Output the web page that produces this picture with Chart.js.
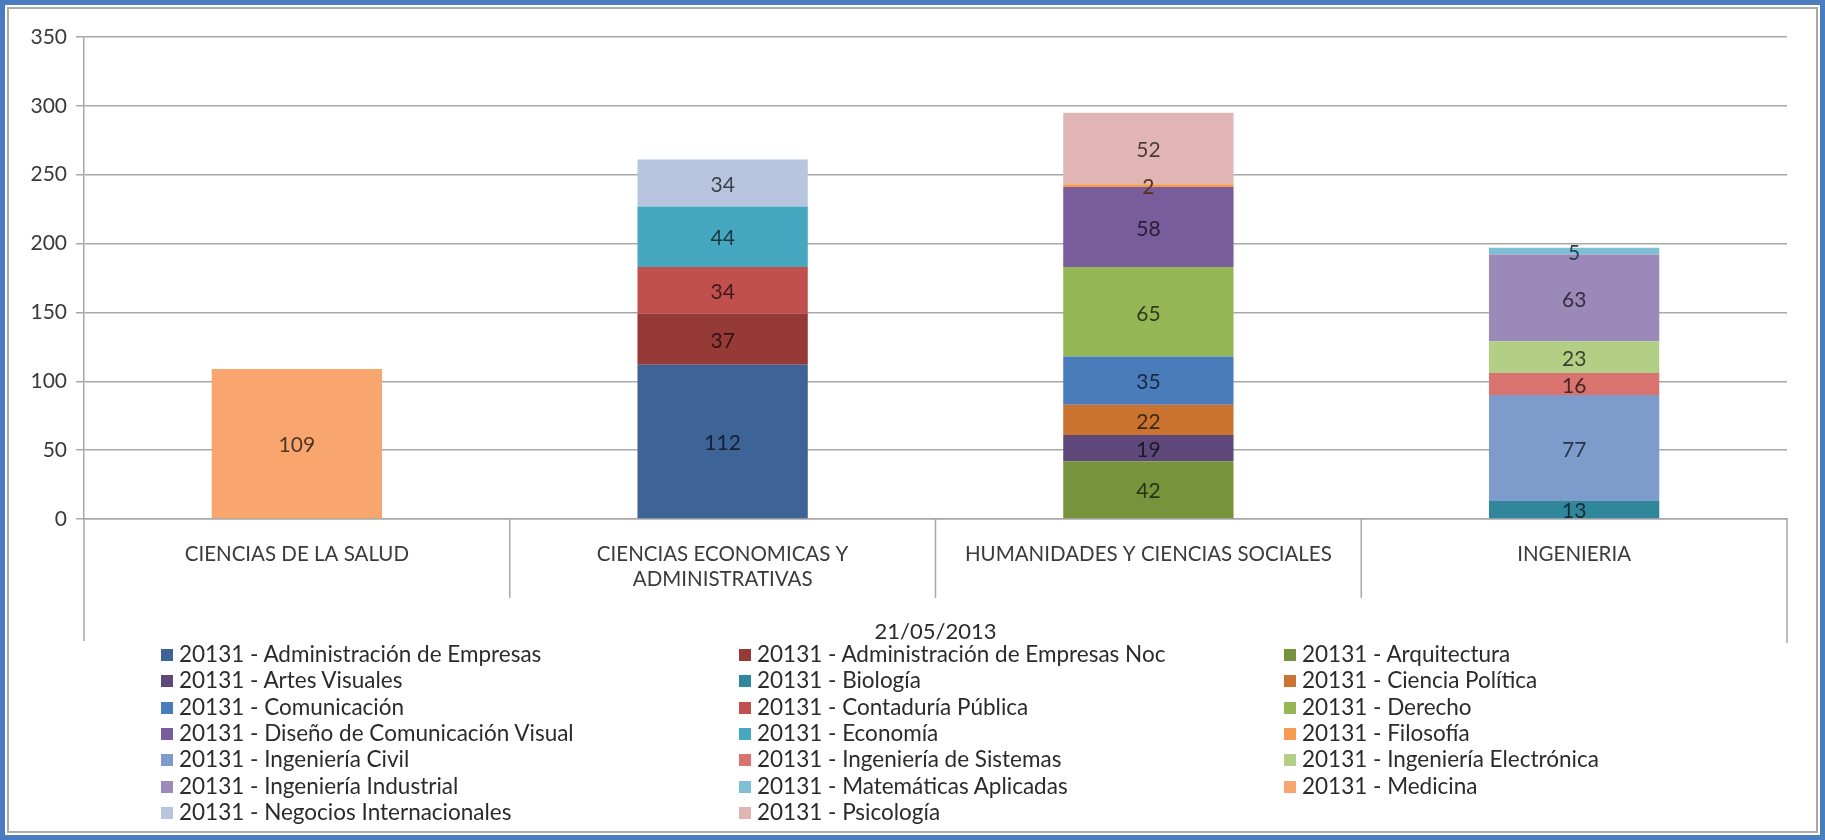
<!DOCTYPE html>
<html>
<head>
<meta charset="utf-8">
<title>Inscritos 20131 por facultad</title>
<script src="https://cdn.jsdelivr.net/npm/chart.js@4.4.1/dist/chart.umd.min.js"></script>
<style>
    html, body { margin: 0; padding: 0; background: #fff; }
    #wrap { position: relative; width: 1825px; height: 840px; overflow: hidden; }
    #chart { position: absolute; left: 0; top: 0; }
    #frame {
        position: absolute; left: 0; top: 0; width: 1825px; height: 840px;
        box-sizing: border-box; border: 5px solid #4a7cc0;
        box-shadow: inset 0 0 0 2px #fff, inset 0 0 0 4px #a9a9a9;
        pointer-events: none;
    }
    #legend { position: absolute; left: 0; top: 0; font-family: Lato, sans-serif; font-size: 22.5px; color: #2b2b2b; }
    .item { position: absolute; white-space: nowrap; line-height: 26px; }
    .box { position: absolute; width: 12px; height: 12px; }
</style>
</head>
<body>
<div id="wrap">
    <canvas id="chart" width="1825" height="840"></canvas>
    <div id="legend"></div>
    <div id="frame"></div>
</div>
<script>
// Facultades (categorias del eje X)
const faculties = [
    'CIENCIAS DE LA SALUD',
    ['CIENCIAS ECONOMICAS Y', 'ADMINISTRATIVAS'],
    'HUMANIDADES Y CIENCIAS SOCIALES',
    'INGENIERIA'
];

// Programas (series), en el orden de la leyenda
const programs = [
    '20131 - Administración de Empresas',
    '20131 - Administración de Empresas Noc',
    '20131 - Arquitectura',
    '20131 - Artes Visuales',
    '20131 - Biología',
    '20131 - Ciencia Política',
    '20131 - Comunicación',
    '20131 - Contaduría Pública',
    '20131 - Derecho',
    '20131 - Diseño de Comunicación Visual',
    '20131 - Economía',
    '20131 - Filosofía',
    '20131 - Ingeniería Civil',
    '20131 - Ingeniería de Sistemas',
    '20131 - Ingeniería Electrónica',
    '20131 - Ingeniería Industrial',
    '20131 - Matemáticas Aplicadas',
    '20131 - Medicina',
    '20131 - Negocios Internacionales',
    '20131 - Psicología'
];

// indice de la facultad de cada programa
const programFaculty = [1, 1, 2, 2, 3, 2, 2, 1, 2, 2, 1, 2, 3, 3, 3, 3, 3, 0, 1, 2];

// inscritos por programa
const programCounts = [112, 37, 42, 19, 13, 22, 35, 34, 65, 58, 44, 2, 77, 16, 23, 63, 5, 109, 34, 52];

const programColors = [
    '#3e6396', '#953a37', '#77933c', '#5f497a', '#30879b',
    '#cb7432', '#4a7cbb', '#c0504d', '#95b654', '#795c9c',
    '#46a7c1', '#f59a4f', '#7d9bcb', '#d8736f', '#b3cf86',
    '#9b8ab9', '#7fbfd6', '#f9a66e', '#b7c5df', '#e1b5b4'
];

const yTicks = [0, 50, 100, 150, 200, 250, 300, 350];
const axisTitle = '21/05/2013';

const FONT = 'Lato, sans-serif';
const GRID = '#a8a8a8';
const X_HEIGHT = 126;

function darken(hex, f) {
    const n = parseInt(hex.slice(1), 16);
    const r = Math.round(((n >> 16) & 255) * f);
    const g = Math.round(((n >> 8) & 255) * f);
    const b = Math.round((n & 255) * f);
    return `rgb(${r},${g},${b})`;
}

const datasets = programs.map((name, i) => {
    const data = faculties.map((f, j) => (j === programFaculty[i] ? programCounts[i] : null));
    return {
        label: name,
        data: data,
        backgroundColor: programColors[i],
        borderWidth: 0,
        barPercentage: 0.4,
        categoryPercentage: 1.0
    };
});

// numeros dentro de cada segmento
const valueLabels = {
    id: 'valueLabels',
    afterDatasetsDraw(chart) {
        const ctx = chart.ctx;
        ctx.save();
        ctx.font = '21px ' + FONT;
        ctx.textAlign = 'center';
        ctx.textBaseline = 'middle';
        chart.data.datasets.forEach((ds, i) => {
            const meta = chart.getDatasetMeta(i);
            meta.data.forEach((el, j) => {
                const v = ds.data[j];
                if (v === null) return;
                const p = el.getProps(['x', 'y', 'base'], true);
                ctx.fillStyle = darken(ds.backgroundColor, 0.33);
                ctx.fillText(String(v), p.x, (p.y + p.base) / 2 + 2);
            });
        });
        ctx.restore();
    }
};

// lineas separadoras de categorias bajo el eje
const categoryLines = {
    id: 'categoryLines',
    afterDraw(chart) {
        const ctx = chart.ctx;
        const xs = chart.scales.x;
        const area = chart.chartArea;
        ctx.save();
        ctx.strokeStyle = GRID;
        ctx.lineWidth = 1.5;
        ctx.beginPath();
        for (let i = 1; i < faculties.length; i++) {
            const x = (xs.getPixelForValue(i - 1) + xs.getPixelForValue(i)) / 2;
            ctx.moveTo(x, area.bottom);
            ctx.lineTo(x, area.bottom + 79);
        }
        ctx.moveTo(area.left, area.bottom);
        ctx.lineTo(area.left, area.bottom + 122);
        ctx.moveTo(area.right, area.bottom);
        ctx.lineTo(area.right, area.bottom + 124);
        ctx.stroke();
        ctx.restore();
    }
};

const chart = new Chart(document.getElementById('chart'), {
    type: 'bar',
    data: { labels: faculties, datasets: datasets },
    options: {
        responsive: false,
        animation: false,
        layout: { padding: { left: 24, right: 38, top: 37, bottom: 840 - 519 - X_HEIGHT } },
        plugins: {
            legend: { display: false },
            tooltip: { enabled: false }
        },
        scales: {
            x: {
                stacked: true,
                grid: { display: false, drawTicks: false },
                border: { color: GRID, width: 1.5 },
                ticks: { font: { family: FONT, size: 20.5 }, color: '#3a3a3a', padding: 23 },
                title: {
                    display: true,
                    text: axisTitle,
                    font: { family: FONT, size: 22 },
                    color: '#2b2b2b',
                    padding: { top: 0, bottom: 0 }
                },
                afterFit: (s) => { s.height = X_HEIGHT; }
            },
            y: {
                stacked: true,
                min: yTicks[0],
                max: yTicks[yTicks.length - 1],
                afterBuildTicks: (s) => { s.ticks = yTicks.map(v => ({ value: v })); },
                ticks: { font: { family: FONT, size: 21 }, color: '#3a3a3a', padding: 9 },
                grid: { color: GRID, lineWidth: 1.5, tickLength: 8 },
                border: { color: GRID, width: 1.5 },
                afterFit: (s) => { s.width = 60; }
            }
        }
    },
    plugins: [valueLabels, categoryLines]
});

// leyenda en tres columnas, armada desde los datasets
const legendEl = document.getElementById('legend');
const colX = [161, 739, 1284];
const rowY0 = 655;
const rowStep = 26.3;
chart.data.datasets.forEach((ds, i) => {
    const row = Math.floor(i / 3);
    const col = i % 3;
    const y = rowY0 + row * rowStep;
    const box = document.createElement('div');
    box.className = 'box';
    box.style.left = colX[col] + 'px';
    box.style.top = (y - 6) + 'px';
    box.style.background = ds.backgroundColor;
    const txt = document.createElement('div');
    txt.className = 'item';
    txt.style.left = (colX[col] + 18) + 'px';
    txt.style.top = (y - 14) + 'px';
    txt.textContent = ds.label;
    legendEl.appendChild(box);
    legendEl.appendChild(txt);
});
</script>
</body>
</html>
